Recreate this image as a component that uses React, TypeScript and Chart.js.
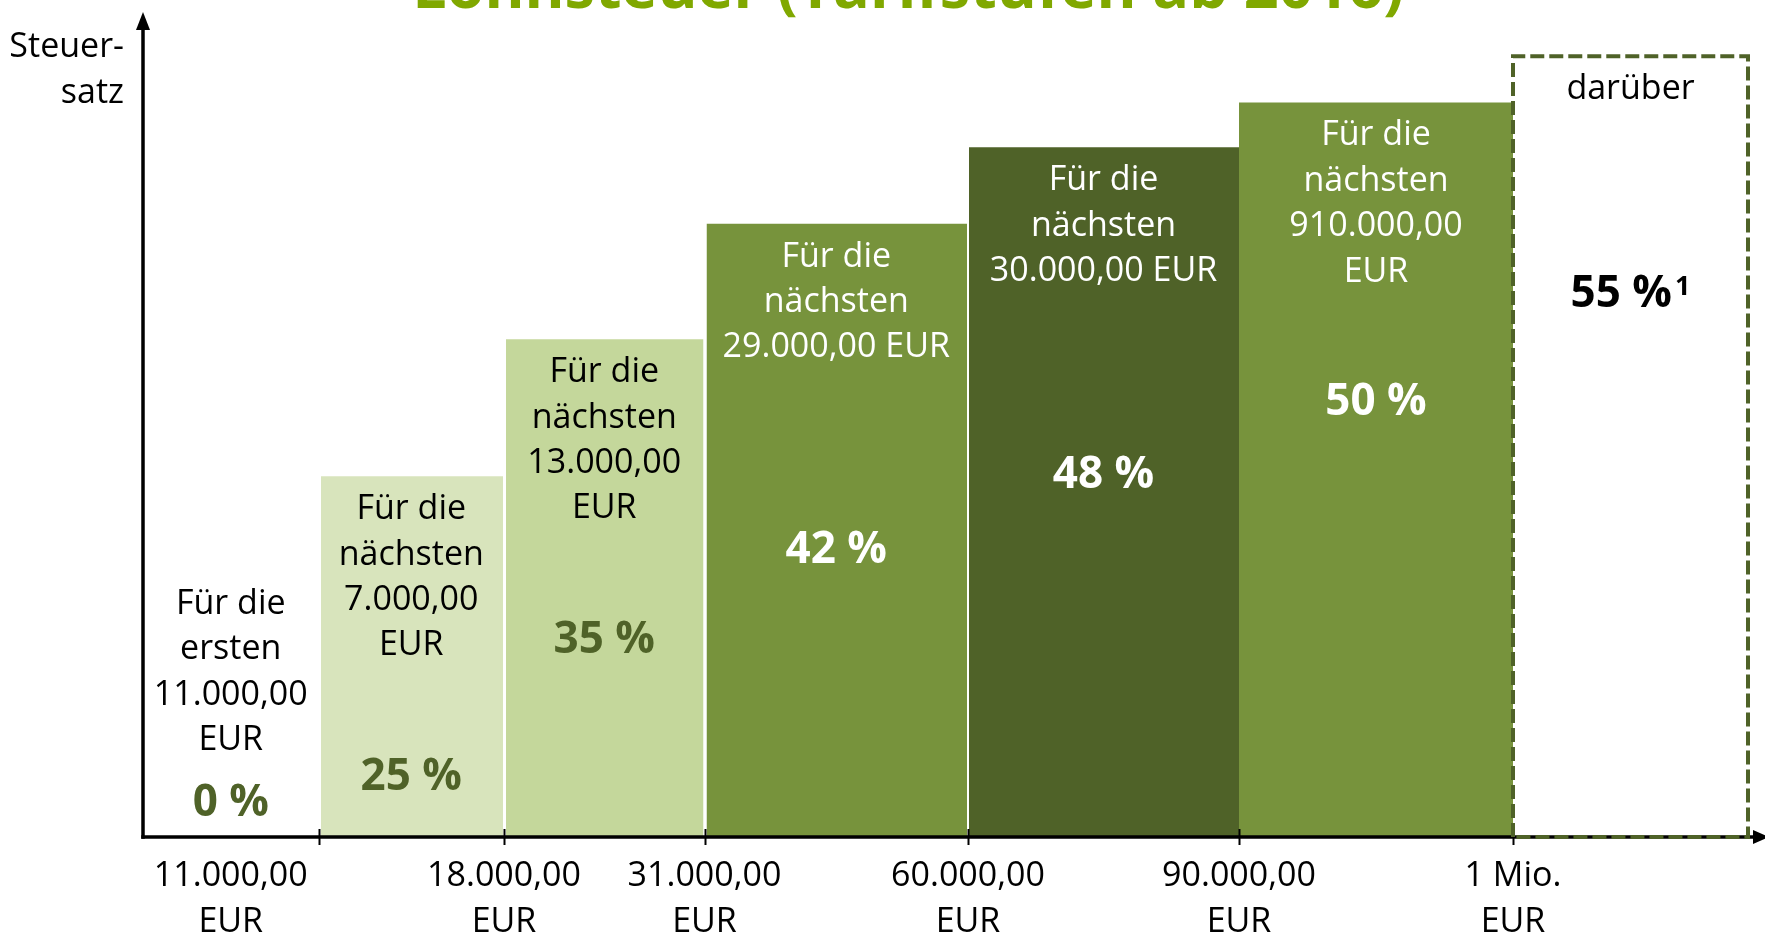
import React, { useEffect, useRef } from "react";
import { Chart, registerables } from "chart.js";

Chart.register(...registerables);

// ---------- data ----------
const TITLE = "Lohnsteuer (Tarifstufen ab 2016)";
const Y_AXIS_LABEL = ["Steuer-", "satz"];

const bracketTexts: string[][] = [
  ["Für die", "ersten", "11.000,00", "EUR"],
  ["Für die", "nächsten", "7.000,00", "EUR"],
  ["Für die", "nächsten", "13.000,00", "EUR"],
  ["Für die", "nächsten", "29.000,00 EUR"],
  ["Für die", "nächsten", "30.000,00 EUR"],
  ["Für die", "nächsten", "910.000,00", "EUR"],
  ["darüber"],
];

const rateLabels = ["0 %", "25 %", "35 %", "42 %", "48 %", "50 %", "55 %"];
const rateFootnotes = ["", "", "", "", "", "", "1"];

// bar heights as drawn in the picture (in % units)
const barLevels = [0, 25, 34.5, 42.5, 47.8, 50.9, 54.1];

const boundaryTickLabels: string[][] = [
  ["11.000,00", "EUR"],
  ["18.000,00", "EUR"],
  ["31.000,00", "EUR"],
  ["60.000,00", "EUR"],
  ["90.000,00", "EUR"],
  ["1 Mio.", "EUR"],
];

// ---------- layout / style ----------
const COLUMN_SPANS = [175.5, 185.5, 200.5, 263.5, 271, 274, 235];
const X_MAX = 1622;
const Y_MAX = 58;
const BAR_COLORS = ["#ffffff", "#d8e4bc", "#c4d79b", "#77933c", "#4f6228", "#77933c", "#ffffff"];
const TEXT_COLORS = ["#000", "#000", "#000", "#fff", "#fff", "#fff", "#000"];
const RATE_COLORS = ["#4f6228", "#4f6228", "#4f6228", "#fff", "#fff", "#fff", "#000"];
const RATE_OFFSETS = [0, 314, 314, 339, 341, 313, 251];
const GAP_LEFT = [0, 2.5, 2, 2, 1, 0, 0];
const GAP_RIGHT = [0, 1, 1, 1, 0, 0, 0];
const FONT = '"Open Sans", "DejaVu Sans", sans-serif';
const DASH_COLOR = "#4f6228";

const boundaries: number[] = [0];
COLUMN_SPANS.forEach((s) => boundaries.push(boundaries[boundaries.length - 1] + s));

const tickPositions = [
  (boundaries[0] + boundaries[1]) / 2,
  boundaries[2],
  boundaries[3],
  boundaries[4],
  boundaries[5],
  boundaries[6],
];

const decorPlugin = {
  id: "decor",
  beforeDatasetDraw(chart: any, args: any) {
    if (args.meta.label !== "darüber") return;
    const { ctx, chartArea } = chart;
    const xs = chart.scales.x;
    const ys = chart.scales.y;
    const yb = ys.getPixelForValue(0);
    const x0 = chartArea.left;
    ctx.save();
    ctx.strokeStyle = "#000";
    ctx.fillStyle = "#000";
    ctx.lineWidth = 3.5;
    // x axis
    ctx.beginPath();
    ctx.moveTo(x0 - 1.75, yb);
    ctx.lineTo(chart.width - 10, yb);
    ctx.stroke();
    ctx.beginPath();
    ctx.moveTo(chart.width - 12, yb - 7);
    ctx.lineTo(chart.width + 4, yb);
    ctx.lineTo(chart.width - 12, yb + 7);
    ctx.closePath();
    ctx.fill();
    // y axis
    ctx.beginPath();
    ctx.moveTo(x0, yb + 1.75);
    ctx.lineTo(x0, chartArea.top + 27);
    ctx.stroke();
    ctx.beginPath();
    ctx.moveTo(x0 - 7, chartArea.top + 30);
    ctx.lineTo(x0, chartArea.top + 12);
    ctx.lineTo(x0 + 7, chartArea.top + 30);
    ctx.closePath();
    ctx.fill();
    // tick marks
    ctx.lineWidth = 2;
    for (let i = 1; i <= 6; i++) {
      const px = Math.round(xs.getPixelForValue(boundaries[i])) + 0.5;
      ctx.beginPath();
      ctx.moveTo(px, yb - 8);
      ctx.lineTo(px, yb + 8);
      ctx.stroke();
    }
    ctx.restore();
  },
  afterDraw(chart: any) {
    const { ctx, chartArea } = chart;
    const xs = chart.scales.x;
    const ys = chart.scales.y;
    const yb = ys.getPixelForValue(0);
    ctx.save();
    // title (cut off at the top)
    ctx.font = `bold 61px ${FONT}`;
    ctx.fillStyle = "#80a800";
    ctx.textAlign = "center";
    ctx.textBaseline = "alphabetic";
    ctx.fillText(TITLE, 908, 8);
    // y axis label
    ctx.font = `34px ${FONT}`;
    ctx.fillStyle = "#000";
    ctx.textAlign = "right";
    ctx.fillText(Y_AXIS_LABEL[0], chartArea.left - 19, 57);
    ctx.fillText(Y_AXIS_LABEL[1], chartArea.left - 19, 103);
    // column texts
    for (let i = 0; i < bracketTexts.length; i++) {
      const cx = xs.getPixelForValue((boundaries[i] + boundaries[i + 1]) / 2);
      const top = ys.getPixelForValue(barLevels[i]);
      const firstBase = i === 0 ? yb - 223 : top + 43;
      ctx.font = `34px ${FONT}`;
      ctx.fillStyle = TEXT_COLORS[i];
      ctx.textAlign = "center";
      bracketTexts[i].forEach((line, k) => {
        ctx.fillText(line, cx, firstBase + k * 45.4);
      });
      const rateBase = i === 0 ? yb - 21.5 : top + RATE_OFFSETS[i];
      ctx.fillStyle = RATE_COLORS[i];
      ctx.font = `bold 44px ${FONT}`;
      const w = ctx.measureText(rateLabels[i]).width;
      let supW = 0;
      if (rateFootnotes[i]) {
        ctx.font = `bold 27px ${FONT}`;
        supW = ctx.measureText(rateFootnotes[i]).width + 3;
      }
      const startX = cx - (w + supW) / 2;
      ctx.textAlign = "left";
      ctx.font = `bold 44px ${FONT}`;
      ctx.fillText(rateLabels[i], startX, rateBase);
      if (rateFootnotes[i]) {
        ctx.font = `bold 27px ${FONT}`;
        ctx.fillText(rateFootnotes[i], startX + w + 3, rateBase - 12);
      }
    }
    ctx.restore();
  },
};

export default function App() {
  const canvasRef = useRef<HTMLCanvasElement | null>(null);

  useEffect(() => {
    if (!canvasRef.current) return;
    const datasets: any[] = [];
    for (let i = 1; i <= 5; i++) {
      datasets.push({
        label: rateLabels[i],
        data: [
          { x: boundaries[i] + GAP_LEFT[i], y: barLevels[i] },
          { x: boundaries[i + 1] - GAP_RIGHT[i], y: barLevels[i] },
        ],
        fill: "origin",
        backgroundColor: BAR_COLORS[i],
        borderColor: "transparent",
        borderWidth: 0,
        pointRadius: 0,
        order: 1,
      });
    }
    datasets.push({
      label: "darüber",
      data: [
        { x: boundaries[6], y: 0 },
        { x: boundaries[6], y: barLevels[6] },
        { x: boundaries[7], y: barLevels[6] },
        { x: boundaries[7], y: 0 },
        { x: boundaries[6], y: 0 },
      ],
      fill: false,
      borderColor: DASH_COLOR,
      borderWidth: 4,
      borderDash: [14, 5],
      borderCapStyle: "butt",
      borderJoinStyle: "miter",
      pointRadius: 0,
      tension: 0,
      clip: false,
      order: -1,
    });

    const chart = new Chart(canvasRef.current, {
      type: "line",
      data: { datasets },
      options: {
        animation: false,
        responsive: false,
        devicePixelRatio: 1,
        layout: { padding: 0 },
        plugins: { legend: { display: false }, tooltip: { enabled: false }, title: { display: false } },
        scales: {
          x: {
            type: "linear",
            min: 0,
            max: X_MAX,
            grid: { display: false },
            border: { display: false },
            afterBuildTicks: (s: any) => {
              s.ticks = tickPositions.map((v) => ({ value: v }));
            },
            afterFit: (s: any) => {
              s.height = 98;
            },
            ticks: {
              autoSkip: false,
              maxRotation: 0,
              minRotation: 0,
              padding: 8,
              color: "#000",
              font: { family: FONT, size: 34, lineHeight: 1.35 },
              callback: (_v: any, i: number) => boundaryTickLabels[i],
            },
          },
          y: {
            min: 0,
            max: Y_MAX,
            grid: { display: false },
            border: { display: false },
            ticks: { display: false },
            afterFit: (s: any) => {
              s.width = 143;
            },
          },
        },
      },
      plugins: [decorPlugin],
    } as any);
    return () => chart.destroy();
  }, []);

  return (
    <div style={{ position: "fixed", left: 0, top: 0, width: 1765, height: 935, background: "#fff" }}>
      <canvas ref={canvasRef} width={1765} height={935} style={{ display: "block" }} />
    </div>
  );
}
